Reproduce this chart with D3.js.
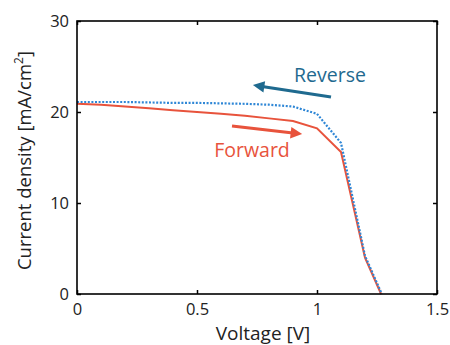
<!DOCTYPE html>
<html>
<head>
<meta charset="utf-8">
<script src="https://cdn.jsdelivr.net/npm/d3@7"></script>
<style>
  body { margin: 0; background: #fff; }
  svg { display: block; font-family: "Open Sans", "Noto Sans", sans-serif; }
</style>
</head>
<body>
<div id="chart"></div>
<script>
// --- DATA ---
const forwardV = [0, 0.1, 0.2, 0.3, 0.4, 0.5, 0.6, 0.7, 0.8, 0.9, 1.0, 1.1, 1.2, 1.267];
const forwardJ = [20.9, 20.8, 20.6, 20.4, 20.2, 20.0, 19.8, 19.6, 19.3, 19.0, 18.2, 15.6, 4.0, 0];
const reverseV = [0, 0.1, 0.2, 0.3, 0.4, 0.5, 0.6, 0.7, 0.8, 0.9, 1.0, 1.1, 1.2, 1.27];
const reverseJ = [21.1, 21.1, 21.1, 21.05, 21.0, 21.0, 20.95, 20.9, 20.8, 20.6, 19.8, 16.6, 4.2, 0];
const xTicks = [0, 0.5, 1, 1.5];
const yTicks = [0, 10, 20, 30];

const WIDTH = 450, HEIGHT = 345;
const MARGIN = { top: 21, right: 13, bottom: 51, left: 77 };

const RED = "#e8533c";
const BLUE = "#2f87d6";
const DARKBLUE = "#1f6a8f";

const svg = d3.select("#chart").append("svg")
  .attr("width", WIDTH).attr("height", HEIGHT);

const x = d3.scaleLinear().domain([0, 1.5]).range([MARGIN.left, WIDTH - MARGIN.right]);
const y = d3.scaleLinear().domain([0, 30]).range([HEIGHT - MARGIN.bottom, MARGIN.top]);

const line = d3.line().x(d => x(d[0])).y(d => y(d[1]));

// curves
svg.append("path")
  .datum(forwardV.map((v, i) => [v, forwardJ[i]]))
  .attr("d", line).attr("fill", "none")
  .attr("stroke", RED).attr("stroke-width", 2);

svg.append("path")
  .datum(reverseV.map((v, i) => [v, reverseJ[i]]))
  .attr("d", line).attr("fill", "none")
  .attr("stroke", BLUE).attr("stroke-width", 2.2)
  .attr("stroke-dasharray", "2,1.6");

// axes (ticks inside, mirrored)
const tickFont = g => g.selectAll("text").attr("font-size", "16.5px").attr("fill", "#222")
  .attr("font-family", "'Open Sans', sans-serif");

svg.append("g")
  .attr("transform", `translate(0,${y(0)})`)
  .call(d3.axisBottom(x).tickValues(xTicks).tickFormat(d3.format("")).tickSize(-4).tickPadding(9))
  .call(g => g.select(".domain").remove())
  .call(tickFont);

svg.append("g")
  .attr("transform", `translate(${x(0)},0)`)
  .call(d3.axisLeft(y).tickValues(yTicks).tickSize(-4).tickPadding(8))
  .call(g => g.select(".domain").remove())
  .call(tickFont);

svg.append("g")
  .attr("transform", `translate(0,${y(30)})`)
  .call(d3.axisTop(x).tickValues(xTicks).tickFormat("").tickSize(-4))
  .call(g => g.select(".domain").remove());

svg.append("g")
  .attr("transform", `translate(${x(1.5)},0)`)
  .call(d3.axisRight(y).tickValues(yTicks).tickFormat("").tickSize(-4))
  .call(g => g.select(".domain").remove());

svg.selectAll(".tick line").attr("stroke", "#000").attr("stroke-width", 1.5);

// frame
svg.append("rect")
  .attr("x", x(0)).attr("y", y(30))
  .attr("width", x(1.5) - x(0)).attr("height", y(0) - y(30))
  .attr("fill", "none").attr("stroke", "#000").attr("stroke-width", 1.6);

// axis titles
svg.append("text")
  .attr("x", (x(0) + x(1.5)) / 2 + 6).attr("y", 340)
  .attr("text-anchor", "middle").attr("font-size", "19px").attr("fill", "#222")
  .text("Voltage [V]");

const yl = svg.append("text")
  .attr("transform", `translate(31,${(y(0) + y(30)) / 2 + 3}) rotate(-90)`)
  .attr("text-anchor", "middle").attr("font-size", "18.5px").attr("fill", "#222");
yl.append("tspan").text("Current density [mA/cm");
yl.append("tspan").attr("font-size", "12px").attr("dy", "-8").text("2");
yl.append("tspan").attr("dy", "8").text("]");

// arrows + annotations
const defs = svg.append("defs");
function marker(id, color) {
  defs.append("marker")
    .attr("id", id).attr("viewBox", "0 0 10 10")
    .attr("refX", 2).attr("refY", 5)
    .attr("markerWidth", 4).attr("markerHeight", 3.6)
    .attr("orient", "auto-start-reverse")
    .append("path").attr("d", "M0,0 L10,5 L0,10 z").attr("fill", color);
}
marker("arrRev", DARKBLUE);
marker("arrFwd", RED);

svg.append("line")
  .attr("x1", 331).attr("y1", 97).attr("x2", 262).attr("y2", 86.5)
  .attr("stroke", DARKBLUE).attr("stroke-width", 3.2)
  .attr("marker-end", "url(#arrRev)");

svg.append("text")
  .attr("x", 330).attr("y", 82).attr("text-anchor", "middle")
  .attr("font-size", "19.5px").attr("fill", DARKBLUE).text("Reverse");

svg.append("line")
  .attr("x1", 232).attr("y1", 126).attr("x2", 293).attr("y2", 133)
  .attr("stroke", RED).attr("stroke-width", 3.2)
  .attr("marker-end", "url(#arrFwd)");

svg.append("text")
  .attr("x", 252).attr("y", 157).attr("text-anchor", "middle")
  .attr("font-size", "19.5px").attr("fill", RED).text("Forward");
</script>
</body>
</html>
